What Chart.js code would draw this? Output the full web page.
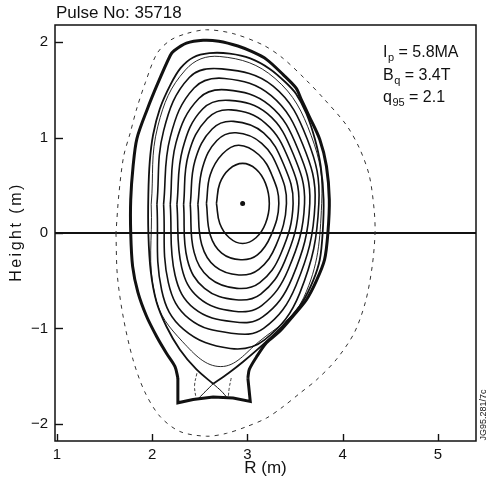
<!DOCTYPE html>
<html><head><meta charset="utf-8">
<script src="https://cdn.jsdelivr.net/npm/chart.js@4.4.1/dist/chart.umd.min.js"></script>
<style>html,body{margin:0;padding:0;background:#fff;}#wrap{width:488px;height:485px;}</style>
</head><body><div id="wrap"><canvas id="c" width="488" height="485"></canvas></div>
<script>
// ---- axis ticks / limits ----
const xTicks = [1, 2, 3, 4, 5];
const yTicks = [-2, -1, 0, 1, 2];
const xLimits = [0.98, 5.40];
const yLimits = [-2.18, 2.18];

// ---- text ----
const titleText = 'Pulse No: 35718';
const xTitle = 'R (m)';
const yTitle = 'Height (m)';
const paramLines = [
  ['I', 'p', ' = 5.8MA'],
  ['B', 'q', ' = 3.4T'],
  ['q', '95', ' = 2.1']
];
const sideLabel = 'JG95.281/7c';

// ---- flux surfaces, [R, Z] in metres (closed) ----
const flux1 = [[2.675,0.31],[2.71,0.10],[2.81,-0.05],[2.95,-0.11],[3.09,-0.05],[3.19,0.10],[3.23,0.31],[3.19,0.52],[3.09,0.67],[2.95,0.73],[2.81,0.67],[2.71,0.52],[2.675,0.31]];
const flux2 = [[2.57,0.31],[2.61,-0.02],[2.73,-0.21],[2.93,-0.28],[3.105,-0.23],[3.25,-0.02],[3.33,0.31],[3.26,0.60],[3.12,0.82],[2.91,0.92],[2.74,0.83],[2.61,0.61],[2.57,0.31]];
const flux3 = [[2.48,0.30],[2.52,-0.12],[2.66,-0.35],[2.91,-0.44],[3.12,-0.38],[3.30,-0.13],[3.41,0.31],[3.33,0.66],[3.15,0.94],[2.88,1.05],[2.68,0.97],[2.53,0.69],[2.48,0.30]];
const flux4 = [[2.40,0.30],[2.44,-0.20],[2.60,-0.47],[2.89,-0.58],[3.13,-0.52],[3.35,-0.22],[3.48,0.31],[3.38,0.72],[3.17,1.05],[2.855,1.17],[2.63,1.09],[2.45,0.76],[2.40,0.30]];
const flux5 = [[2.33,0.30],[2.37,-0.28],[2.55,-0.58],[2.88,-0.70],[3.14,-0.64],[3.39,-0.30],[3.54,0.31],[3.435,0.77],[3.19,1.15],[2.83,1.29],[2.58,1.20],[2.38,0.82],[2.33,0.30]];
const flux6 = [[2.26,0.30],[2.31,-0.36],[2.49,-0.68],[2.86,-0.82],[3.15,-0.76],[3.43,-0.38],[3.60,0.31],[3.48,0.83],[3.21,1.25],[2.81,1.39],[2.53,1.30],[2.32,0.88],[2.26,0.30]];
const flux7 = [[2.19,0.30],[2.24,-0.44],[2.44,-0.79],[2.85,-0.93],[3.16,-0.88],[3.47,-0.47],[3.655,0.31],[3.53,0.88],[3.23,1.34],[2.78,1.50],[2.49,1.41],[2.25,0.945],[2.19,0.30]];
const flux8 = [[2.12,0.30],[2.17,-0.52],[2.39,-0.90],[2.83,-1.05],[3.17,-1.00],[3.51,-0.55],[3.71,0.31],[3.58,0.93],[3.25,1.44],[2.76,1.62],[2.44,1.52],[2.19,1.005],[2.12,0.30]];
const flux9 = [[2.05,0.30],[2.10,-0.60],[2.33,-1.01],[2.82,-1.21],[3.18,-1.12],[3.55,-0.63],[3.75,0.31],[3.63,0.98],[3.27,1.54],[2.73,1.72],[2.39,1.63],[2.12,1.07],[2.05,0.30]];
const flux10 = [[1.99,0.30],[2.03,-0.66],[2.32,-1.14],[2.72,-1.40],[3.12,-1.14],[3.59,-0.68],[3.78,0.31],[3.67,1.02],[3.29,1.62],[2.71,1.85],[2.35,1.71],[2.06,1.12],[1.99,0.30]];

// separatrix, starting and ending at the X-point
const separatrix = [[2.64,-1.58],[2.465,-1.43],[2.29,-1.22],[2.15,-0.98],[2.045,-0.72],[1.985,-0.40],[1.96,0.0],[1.96,0.40],[1.975,0.75],[2.01,1.03],[2.08,1.30],[2.19,1.55],[2.30,1.73],[2.43,1.84],[2.60,1.885],[2.815,1.88],[3.03,1.83],[3.235,1.72],[3.40,1.58],[3.51,1.46],[3.62,1.25],[3.71,0.98],[3.77,0.70],[3.80,0.35],[3.79,0.0],[3.76,-0.28],[3.69,-0.50],[3.58,-0.72],[3.41,-0.93],[3.18,-1.155],[2.955,-1.35],[2.80,-1.47],[2.64,-1.58]];
const legLeft = [[2.64,-1.58],[2.555,-1.665],[2.49,-1.73]];
const legRight = [[2.64,-1.58],[2.73,-1.66],[2.79,-1.73]];
const solLeft = [[2.47,-1.47],[2.445,-1.60],[2.46,-1.73]];
const solRight = [[2.83,-1.52],[2.81,-1.62],[2.80,-1.71]];

// first wall (thick) and divertor box
const wallMain = [[2.27,-1.52],[2.24,-1.40],[2.15,-1.26],[2.05,-1.09],[1.94,-0.87],[1.85,-0.62],[1.795,-0.35],[1.775,0.0],[1.775,0.35],[1.80,0.70],[1.84,0.99],[1.95,1.30],[2.06,1.57],[2.19,1.86],[2.23,1.91],[2.36,1.99],[2.535,2.02],[2.70,2.01],[2.90,1.96],[3.05,1.90],[3.20,1.82],[3.375,1.66],[3.51,1.52],[3.565,1.40],[3.65,1.22],[3.76,0.98],[3.83,0.70],[3.86,0.35],[3.845,0.0],[3.81,-0.28],[3.725,-0.50],[3.62,-0.70],[3.48,-0.87],[3.34,-1.03],[3.20,-1.15],[3.095,-1.30],[3.02,-1.43],[3.005,-1.52]];
const wallDivertor = [[3.005,-1.52],[3.03,-1.765],[2.85,-1.73],[2.64,-1.72],[2.43,-1.745],[2.27,-1.78],[2.27,-1.52]];

// vacuum vessel (dashed)
const vessel = [[1.62,0.0],[1.635,-0.45],[1.70,-0.90],[1.80,-1.33],[1.92,-1.66],[2.08,-1.92],[2.29,-2.08],[2.57,-2.13],[2.78,-2.10],[2.99,-2.03],[3.20,-1.94],[3.375,-1.82],[3.55,-1.68],[3.725,-1.54],[3.93,-1.33],[4.12,-1.05],[4.24,-0.72],[4.31,-0.35],[4.34,0.0],[4.33,0.25],[4.28,0.60],[4.18,0.88],[4.04,1.13],[3.80,1.41],[3.62,1.60],[3.375,1.83],[3.165,1.97],[2.85,2.09],[2.57,2.13],[2.36,2.09],[2.19,2.02],[2.05,1.88],[1.93,1.58],[1.84,1.31],[1.77,1.05],[1.70,0.80],[1.65,0.40],[1.62,0.0]];

const midplane = [[0.98,0],[5.40,0]];
const magAxis = [[2.95,0.31]];

// ---- build datasets ----
const INK = '#111';
function ds(pts, o) {
  return Object.assign({
    data: pts.map(p => ({x: p[0], y: p[1]})),
    showLine: true, pointRadius: 0, borderColor: INK, backgroundColor: INK,
    borderWidth: 1.4, tension: 0.4, fill: false
  }, o || {});
}
const fluxSurfaces = [flux1, flux2, flux3, flux4, flux5, flux6, flux7, flux8, flux9, flux10];
const datasets = [];
datasets.push(ds(vessel, {borderWidth: 1, borderDash: [4, 5], borderColor: '#333', tension: 0.3}));
fluxSurfaces.forEach((f, i) => datasets.push(ds(f, {borderWidth: i === 9 ? 0.9 : 1.6})));
datasets.push(ds(separatrix, {borderWidth: 1.8, tension: 0.3}));
datasets.push(ds(legLeft, {borderWidth: 1, tension: 0.2}));
datasets.push(ds(legRight, {borderWidth: 1, tension: 0.2}));
datasets.push(ds(solLeft, {borderWidth: 0.8, borderDash: [3, 2], tension: 0.4}));
datasets.push(ds(solRight, {borderWidth: 0.8, borderDash: [3, 2], tension: 0.4}));
datasets.push(ds(wallMain, {borderWidth: 3, tension: 0.3}));
datasets.push(ds(wallDivertor, {borderWidth: 3, tension: 0}));
datasets.push(ds(midplane, {borderWidth: 2, tension: 0}));
datasets.push(ds(magAxis, {showLine: false, pointRadius: 1.8, pointStyle: 'circle'}));

const FONT = "'Liberation Sans', Arial, Helvetica, sans-serif";

const decor = {
  id: 'decor',
  afterDraw(chart) {
    const {ctx, chartArea: a, scales} = chart;
    ctx.save();
    // frame
    ctx.strokeStyle = INK; ctx.lineWidth = 1.5;
    ctx.strokeRect(a.left, a.top, a.right - a.left, a.bottom - a.top);
    // inward ticks
    ctx.lineWidth = 1.4;
    xTicks.forEach(v => {
      const px = Math.round(scales.x.getPixelForValue(v)) + 0.5;
      ctx.beginPath(); ctx.moveTo(px, a.bottom); ctx.lineTo(px, a.bottom - 7); ctx.stroke();
    });
    yTicks.forEach(v => {
      const py = Math.round(scales.y.getPixelForValue(v)) + 0.5;
      ctx.beginPath(); ctx.moveTo(a.left, py); ctx.lineTo(a.left + 8, py); ctx.stroke();
    });
    // title
    ctx.fillStyle = INK;
    ctx.textBaseline = 'alphabetic';
    ctx.textAlign = 'left';
    ctx.font = '17px ' + FONT;
    ctx.fillText(titleText, a.left + 1, 18);
    // y-axis title (letter-spaced like the reference)
    ctx.save();
    ctx.translate(17, (a.top + a.bottom) / 2);
    ctx.rotate(-Math.PI / 2);
    ctx.font = '16px ' + FONT;
    if ('letterSpacing' in ctx) ctx.letterSpacing = '2.5px';
    ctx.textAlign = 'center'; ctx.textBaseline = 'middle';
    ctx.fillText(yTitle, 1, 0);
    ctx.restore();
    // parameter box
    const x0 = a.left + 328;
    const baselines = [57, 80, 102];
    paramLines.forEach((ln, i) => {
      let x = x0; const y = baselines[i];
      ctx.font = '16px ' + FONT; ctx.fillText(ln[0], x, y); x += ctx.measureText(ln[0]).width + 0.5;
      ctx.font = '11px ' + FONT; ctx.fillText(ln[1], x, y + 4); x += ctx.measureText(ln[1]).width;
      ctx.font = '16px ' + FONT; ctx.fillText(ln[2], x, y);
    });
    // side label
    ctx.save();
    ctx.translate(484, 415);
    ctx.rotate(-Math.PI / 2);
    ctx.font = '9px ' + FONT; ctx.textAlign = 'center'; ctx.textBaseline = 'middle';
    ctx.fillText(sideLabel, 0, 0);
    ctx.restore();
    ctx.restore();
  }
};

new Chart(document.getElementById('c'), {
  type: 'scatter',
  data: {datasets},
  options: {
    responsive: false, animation: false, devicePixelRatio: 1,
    layout: {padding: {top: 25, right: 12, left: 0, bottom: 0}},
    plugins: {legend: {display: false}, tooltip: {enabled: false}, title: {display: false}},
    scales: {
      x: {
        type: 'linear', min: xLimits[0], max: xLimits[1],
        afterBuildTicks: s => { s.ticks = xTicks.map(v => ({value: v})); },
        afterFit: s => { s.height = 44; },
        grid: {display: false, drawTicks: false},
        border: {display: false},
        ticks: {color: INK, font: {family: FONT, size: 15}, padding: 5, maxRotation: 0,
                callback: v => String(v).replace('-', '\u2212')},
        title: {display: true, text: xTitle, color: INK, font: {family: FONT, size: 17}, padding: {top: 0, bottom: 6}}
      },
      y: {
        type: 'linear', min: yLimits[0], max: yLimits[1],
        afterBuildTicks: s => { s.ticks = yTicks.map(v => ({value: v})); },
        afterFit: s => { s.width = 55; },
        grid: {display: false, drawTicks: false},
        border: {display: false},
        ticks: {color: INK, font: {family: FONT, size: 15}, padding: 7,
                callback: v => String(v).replace('-', '\u2212')},
        title: {display: false, text: yTitle}
      }
    }
  },
  plugins: [decor]
});
</script>
</body></html>
